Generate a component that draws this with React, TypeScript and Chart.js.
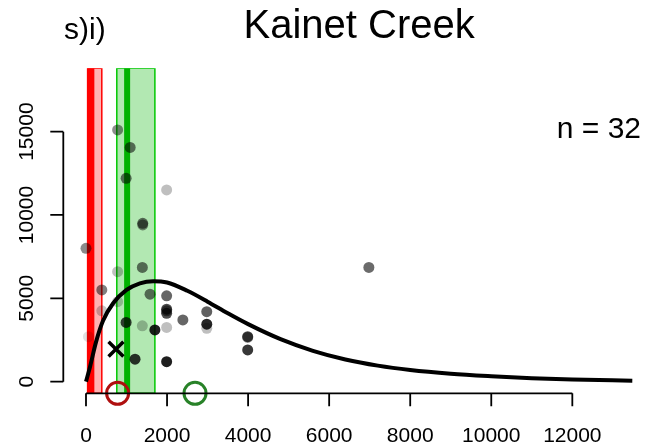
import React, { useEffect, useRef } from "react";
import { Chart, registerables } from "chart.js";

Chart.register(...registerables);

// ---- axis definition ----
const xTicks = [0, 2000, 4000, 6000, 8000, 10000, 12000];
const yTicks = [0, 5000, 10000, 15000];
const X_MIN = -560;
const X_MAX = 14040;
const Y_MIN = -700;
const Y_MAX = 18800;

// ---- text ----
const titleText = "Kainet Creek";
const panelLabel = "s)i)";
const nLabel = "n = 32";

// ---- observations ----
const pointX = [0, 780, 1090, 990, 1990, 1400, 1400, 1390, 780, 390, 1580, 1990, 1990, 1990, 780, 390, 2390, 2980, 2980, 2980, 990, 1390, 1700, 1990, 60, 3990, 3990, 1210, 1990, 6980, 1990, 3990];
const pointY = [8000, 15100, 14050, 12200, 11500, 9500, 9400, 6850, 6600, 5500, 5250, 5150, 4350, 4100, 4800, 4250, 3700, 4200, 3450, 3200, 3550, 3350, 3100, 3250, 2700, 2700, 1900, 1350, 1200, 6850, 4250, 2650];
// relative weight (darkness) of each observation
const pointWeight = [0.46, 0.45, 0.55, 0.55, 0.25, 0.55, 0.45, 0.55, 0.25, 0.5, 0.55, 0.6, 0.7, 0.7, 0.22, 0.22, 0.6, 0.62, 0.85, 0.25, 0.75, 0.25, 0.88, 0.25, 0.12, 0.72, 0.78, 0.8, 0.88, 0.58, 0.5, 0.4];

// ---- fitted curve ----
const curveX = [0, 100, 250, 420, 670, 1000, 1330, 1660, 2000, 2500, 3000, 3500, 4000, 4800, 5600, 6400, 7200, 8000, 9000, 10000, 11000, 12000, 13480];
const curveY = [0, 900, 2400, 3650, 4700, 5500, 5900, 6030, 5950, 5450, 4800, 4100, 3450, 2550, 1850, 1330, 960, 700, 480, 330, 210, 130, 60];

// ---- bands & markers ----
const redBand = [40, 390];
const redLine = 120;
const greenBand = [760, 1700];
const greenLine = 1015;
const crossX = [740];
const crossY = [1950];
const redCircleX = [780];
const greenCircleX = [2690];

const FONT = "'Liberation Sans', Arial, Helvetica, sans-serif";

function bandRect(b: number[]) {
  return [
    { x: b[0], y: Y_MIN },
    { x: b[0], y: Y_MAX },
    { x: b[1], y: Y_MAX },
    { x: b[1], y: Y_MIN },
    { x: b[0], y: Y_MIN },
  ];
}

const axesPlugin = {
  id: "rAxes",
  afterDraw(chart: any) {
    const ctx = chart.ctx as CanvasRenderingContext2D;
    const xs = chart.scales.x;
    const ys = chart.scales.y;
    const area = chart.chartArea;
    ctx.save();
    ctx.strokeStyle = "#000";
    ctx.fillStyle = "#000";
    ctx.lineWidth = 1.8;
    // x axis
    const axY = area.bottom;
    ctx.beginPath();
    ctx.moveTo(xs.getPixelForValue(xTicks[0]), axY);
    ctx.lineTo(xs.getPixelForValue(xTicks[xTicks.length - 1]), axY);
    xTicks.forEach((t) => {
      const px = xs.getPixelForValue(t);
      ctx.moveTo(px, axY);
      ctx.lineTo(px, axY + 13);
    });
    ctx.stroke();
    ctx.font = `21px ${FONT}`;
    ctx.textAlign = "center";
    ctx.textBaseline = "alphabetic";
    xTicks.forEach((t) => {
      ctx.fillText(String(t), xs.getPixelForValue(t), axY + 48.4);
    });
    // y axis
    const axX = area.left;
    ctx.beginPath();
    ctx.moveTo(axX, ys.getPixelForValue(yTicks[0]));
    ctx.lineTo(axX, ys.getPixelForValue(yTicks[yTicks.length - 1]));
    yTicks.forEach((t) => {
      const py = ys.getPixelForValue(t);
      ctx.moveTo(axX, py);
      ctx.lineTo(axX - 13, py);
    });
    ctx.stroke();
    yTicks.forEach((t) => {
      const py = ys.getPixelForValue(t);
      ctx.save();
      ctx.translate(axX - 30, py);
      ctx.rotate(-Math.PI / 2);
      ctx.fillText(String(t), 0, 0);
      ctx.restore();
    });
    // texts
    ctx.font = `40px ${FONT}`;
    ctx.textAlign = "center";
    ctx.fillText(titleText, (area.left + area.right) / 2, 37.5);
    ctx.font = `30px ${FONT}`;
    ctx.textAlign = "left";
    ctx.fillText(panelLabel, 64, 38.5);
    ctx.font = `30px ${FONT}`;
    ctx.textAlign = "right";
    ctx.fillText(nLabel, 641, 137.7);
    ctx.restore();
  },
};

export default function App() {
  const ref = useRef<HTMLCanvasElement | null>(null);

  useEffect(() => {
    if (!ref.current) return;
    const pts = pointX.map((x, i) => ({ x, y: pointY[i] }));
    const ptColors = pointWeight.map((w) => `rgba(0,0,0,${w})`);
    const curve = curveX.map((x, i) => ({ x, y: curveY[i] }));

    const chart = new Chart(ref.current, {
      type: "scatter",
      data: {
        datasets: [
          {
            type: "line",
            data: bandRect(redBand),
            showLine: true,
            fill: "shape",
            backgroundColor: "rgba(255,0,0,0.3)",
            borderColor: "rgb(255,0,0)",
            borderWidth: 1.5,
            pointRadius: 0,
            tension: 0,
            order: 10,
          } as any,
          {
            type: "line",
            data: bandRect(greenBand),
            showLine: true,
            fill: "shape",
            backgroundColor: "rgba(0,180,0,0.3)",
            borderColor: "rgb(0,200,0)",
            borderWidth: 1.5,
            pointRadius: 0,
            tension: 0,
            order: 10,
          } as any,
          {
            type: "line",
            data: [
              { x: redLine, y: Y_MIN },
              { x: redLine, y: Y_MAX },
            ],
            showLine: true,
            borderColor: "rgb(255,0,0)",
            borderWidth: 7,
            borderCapStyle: "butt",
            pointRadius: 0,
            fill: false,
            order: 9,
          } as any,
          {
            type: "line",
            data: [
              { x: greenLine, y: Y_MIN },
              { x: greenLine, y: Y_MAX },
            ],
            showLine: true,
            borderColor: "rgb(0,178,0)",
            borderWidth: 6,
            borderCapStyle: "butt",
            pointRadius: 0,
            fill: false,
            order: 9,
          } as any,
          {
            type: "scatter",
            data: pts,
            pointRadius: 5.5,
            pointBackgroundColor: ptColors,
            pointBorderWidth: 0,
            borderWidth: 0,
            order: 5,
          } as any,
          {
            type: "line",
            data: curve,
            showLine: true,
            borderColor: "#000",
            borderWidth: 4,
            cubicInterpolationMode: "monotone",
            pointRadius: 0,
            fill: false,
            order: 4,
          } as any,
          {
            type: "scatter",
            data: crossX.map((x, i) => ({ x, y: crossY[i] })),
            pointStyle: "crossRot",
            pointRadius: 10.5,
            pointBorderColor: "#000",
            pointBorderWidth: 3.5,
            order: 3,
          } as any,
          {
            type: "scatter",
            data: redCircleX.map((x) => ({ x, y: Y_MIN })),
            pointStyle: "circle",
            pointRadius: 11,
            pointBackgroundColor: "rgba(0,0,0,0)",
            pointBorderColor: "rgb(175,15,15)",
            pointBorderWidth: 3,
            clip: false,
            order: 2,
          } as any,
          {
            type: "scatter",
            data: greenCircleX.map((x) => ({ x, y: Y_MIN })),
            pointStyle: "circle",
            pointRadius: 11,
            pointBackgroundColor: "rgba(0,0,0,0)",
            pointBorderColor: "rgb(40,130,40)",
            pointBorderWidth: 3,
            clip: false,
            order: 2,
          } as any,
        ],
      },
      options: {
        responsive: false,
        animation: false,
        devicePixelRatio: 1,
        layout: {
          autoPadding: false,
          padding: { left: 63.3, top: 68.3, right: 4, bottom: 53.7 },
        },
        scales: {
          x: { type: "linear", min: X_MIN, max: X_MAX, display: false },
          y: { type: "linear", min: Y_MIN, max: Y_MAX, display: false },
        },
        plugins: {
          legend: { display: false },
          tooltip: { enabled: false },
          title: { display: false },
        },
        events: [],
      } as any,
      plugins: [axesPlugin],
    });
    return () => chart.destroy();
  }, []);

  return (
    <div style={{ position: "absolute", left: 0, top: 0, width: 659, height: 447, background: "#fff" }}>
      <canvas ref={ref} width={659} height={447} style={{ display: "block" }} />
    </div>
  );
}
